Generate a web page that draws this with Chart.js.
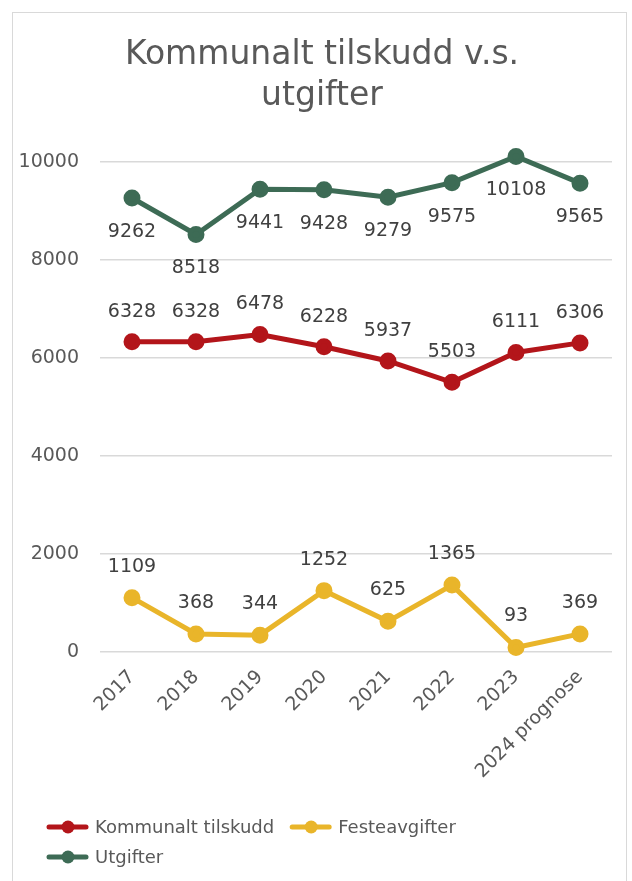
<!DOCTYPE html>
<html lang="no">
<head>
    <meta charset="UTF-8">
    <title>Kommunalt tilskudd v.s. utgifter</title>
    <script src="https://cdn.jsdelivr.net/npm/chart.js"></script>
    <style>
        html, body { margin: 0; padding: 0; background: #ffffff; }
        canvas { display: block; }
    </style>
</head>
<body>
    <canvas id="chart" width="632" height="881"></canvas>

    <script>
        const years = ["2017", "2018", "2019", "2020", "2021", "2022", "2023", "2024 prognose"];
        const kommunaltTilskudd = [6328, 6328, 6478, 6228, 5937, 5503, 6111, 6306];
        const festeavgifter = [1109, 368, 344, 1252, 625, 1365, 93, 369];
        const utgifter = [9262, 8518, 9441, 9428, 9279, 9575, 10108, 9565];
        const yTicks = [0, 2000, 4000, 6000, 8000, 10000];

        const FONT = "'DejaVu Sans', sans-serif";
        const TEXT = "#595959";

        // frame round the whole chart, like the office chart border
        const framePlugin = {
            id: "frame",
            afterLayout(chart) {
                // centre the title on the frame, not on the padded box
                if (chart.titleBlock) {
                    chart.titleBlock.left += 16;
                    chart.titleBlock.right += 16;
                }
            },
            beforeDraw(chart) {
                const ctx = chart.ctx;
                ctx.save();
                ctx.strokeStyle = "#d9d9d9";
                ctx.lineWidth = 1;
                ctx.strokeRect(12.5, 12.5, 614, 890);
                ctx.restore();
            }
        };

        // value labels next to every point
        const valueLabels = {
            id: "valueLabels",
            afterDatasetsDraw(chart) {
                const ctx = chart.ctx;
                ctx.save();
                ctx.font = "19px " + FONT;
                ctx.fillStyle = "#404040";
                ctx.textAlign = "center";
                ctx.textBaseline = "middle";
                chart.data.datasets.forEach((ds, i) => {
                    const meta = chart.getDatasetMeta(i);
                    meta.data.forEach((pt, j) => {
                        ctx.fillText(String(ds.data[j]), pt.x, pt.y + ds.labelOffset);
                    });
                });
                ctx.restore();
            }
        };

        // legend with line + marker, wraps like the original
        const lineLegend = {
            id: "lineLegend",
            afterDraw(chart) {
                const ctx = chart.ctx;
                ctx.save();
                ctx.font = "18px " + FONT;
                ctx.textBaseline = "middle";
                let x = 47, y = 827;
                const startX = 47, maxRow = 470;
                chart.data.datasets.forEach((ds) => {
                    const w = 41 + 7 + ctx.measureText(ds.label).width;
                    if (x > startX && (x - startX) + w > maxRow) {
                        x = startX;
                        y += 30;
                    }
                    ctx.strokeStyle = ds.borderColor;
                    ctx.lineWidth = 5;
                    ctx.lineCap = "round";
                    ctx.beginPath();
                    ctx.moveTo(x + 2, y);
                    ctx.lineTo(x + 39, y);
                    ctx.stroke();
                    ctx.fillStyle = ds.borderColor;
                    ctx.beginPath();
                    ctx.arc(x + 21, y, 6.5, 0, Math.PI * 2);
                    ctx.fill();
                    ctx.fillStyle = TEXT;
                    ctx.fillText(ds.label, x + 48, y + 1);
                    x += w + 16;
                });
                ctx.restore();
            }
        };

        function lineSet(label, data, color, offset) {
            return {
                label: label,
                data: data,
                borderColor: color,
                backgroundColor: color,
                borderWidth: 5,
                pointRadius: 6,
                pointHoverRadius: 6,
                tension: 0,
                clip: false,
                labelOffset: offset
            };
        }

        new Chart(document.getElementById("chart"), {
            type: "line",
            data: {
                labels: years,
                datasets: [
                    lineSet("Kommunalt tilskudd", kommunaltTilskudd, "#b3151a", -30),
                    lineSet("Festeavgifter", festeavgifter, "#e9b52a", -31),
                    lineSet("Utgifter", utgifter, "#3d6b55", 34)
                ]
            },
            options: {
                responsive: false,
                animation: false,
                layout: { padding: { left: 0, right: 20, top: 0, bottom: 79 } },
                plugins: {
                    legend: { display: false },
                    tooltip: { enabled: false },
                    title: {
                        display: true,
                        text: ["Kommunalt tilskudd v.s.", "utgifter"],
                        color: TEXT,
                        font: { family: FONT, size: 33, weight: "normal", lineHeight: 1.27 },
                        padding: { top: 34, bottom: 44 }
                    }
                },
                scales: {
                    x: {
                        offset: true,
                        grid: { display: false },
                        border: { display: false },
                        ticks: {
                            color: TEXT,
                            font: { family: FONT, size: 19 },
                            minRotation: 45,
                            maxRotation: 45,
                            padding: 6
                        },
                        afterFit(axis) { axis.height = 150; }
                    },
                    y: {
                        min: 0,
                        max: 10000,
                        afterBuildTicks(axis) { axis.ticks = yTicks.map(v => ({ value: v })); },
                        grid: { color: "#d9d9d9", lineWidth: 1.5, drawTicks: false },
                        border: { display: false },
                        ticks: {
                            color: TEXT,
                            font: { family: FONT, size: 19 },
                            padding: 21,
                            callback: (v) => String(v)
                        },
                        afterFit(axis) { axis.width = 100; }
                    }
                }
            },
            plugins: [framePlugin, valueLabels, lineLegend]
        });
    </script>
</body>
</html>
